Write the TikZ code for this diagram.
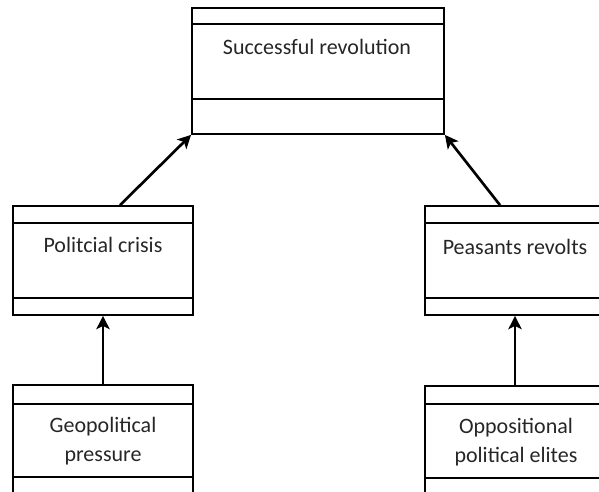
\documentclass[tikz,border=0pt]{standalone}
\usepackage{fontspec}
\setmainfont{Carlito}
\usetikzlibrary{arrows.meta}

\tikzset{every picture/.style={line width=0.75pt}}
\tikzset{
  umlbox/.style={draw, line width=1.3pt, inner sep=0pt, minimum width=135pt, minimum height=81.75pt},
  umltext/.style={align=center, text=black!85, font=\fontsize{16.5pt}{21.75pt}\selectfont},
  dep/.style={line width=2pt, -{Stealth[length=10pt,width=10pt,inset=2.5pt]}}
}

\begin{document}
\begin{tikzpicture}[x=0.75pt,y=0.75pt,yscale=-1,xscale=1]
\useasboundingbox (0,0) rectangle (599,492);
\clip (0,0) rectangle (599,492);

%Shape: Rectangle [id:revolution]
\node [umlbox, minimum width=189pt, minimum height=94.5pt] (rev) at (318,71) {};
\draw [line width=1.3pt] ([yshift=12.75pt]rev.north west) -- ([yshift=12.75pt]rev.north east) ;
\draw [line width=1.3pt] ([yshift=-27pt]rev.south west) -- ([yshift=-27pt]rev.south east) ;
%Shape: Rectangle [id:crisis]
\node [umlbox] (pc) at (103,260.5) {};
\draw [line width=1.3pt] ([yshift=13.5pt]pc.north west) -- ([yshift=13.5pt]pc.north east) ;
\draw [line width=1.3pt] ([yshift=-13.5pt]pc.south west) -- ([yshift=-13.5pt]pc.south east) ;
%Shape: Rectangle [id:revolts]
\node [umlbox] (pr) at (515,260.5) {};
\draw [line width=1.3pt] ([yshift=13.5pt]pr.north west) -- ([yshift=13.5pt]pr.north east) ;
\draw [line width=1.3pt] ([yshift=-13.5pt]pr.south west) -- ([yshift=-13.5pt]pr.south east) ;
%Shape: Rectangle [id:pressure]
\node [umlbox] (geo) at (103,439.5) {};
\draw [line width=1.3pt] ([yshift=15pt]geo.north west) -- ([yshift=15pt]geo.north east) ;
\draw [line width=1.3pt] ([yshift=-13.5pt]geo.south west) -- ([yshift=-13.5pt]geo.south east) ;
%Shape: Rectangle [id:elites]
\node [umlbox] (opp) at (515,440.5) {};
\draw [line width=1.3pt] ([yshift=14.25pt]opp.north west) -- ([yshift=14.25pt]opp.north east) ;
\draw [line width=1.3pt] ([yshift=-13.5pt]opp.south west) -- ([yshift=-13.5pt]opp.south east) ;

%Straight Lines [id:arrows]
\draw [dep] ([xshift=12.75pt]pc.north) -- (rev.south west) ;
\draw [dep] ([xshift=-11.25pt]pr.north) -- (rev.south east) ;
\draw [dep] (geo.north) -- (pc.south) ;
\draw [dep] (opp.north) -- (pr.south) ;

% Text Node
\node [umltext] (revtxt) at (317,47) {Successful revolution};
% Text Node
\node [umltext] (pctxt) at (103,245) {Politcial crisis};
% Text Node
\node [umltext] (prtxt) at (515,247) {Peasants revolts};
% Text Node
\node [umltext] (geotxt) at (103,441) {Geopolitical\\pressure};
% Text Node
\node [umltext] (opptxt) at (516,442) {Oppositional\\political elites};

\end{tikzpicture}
\end{document}
